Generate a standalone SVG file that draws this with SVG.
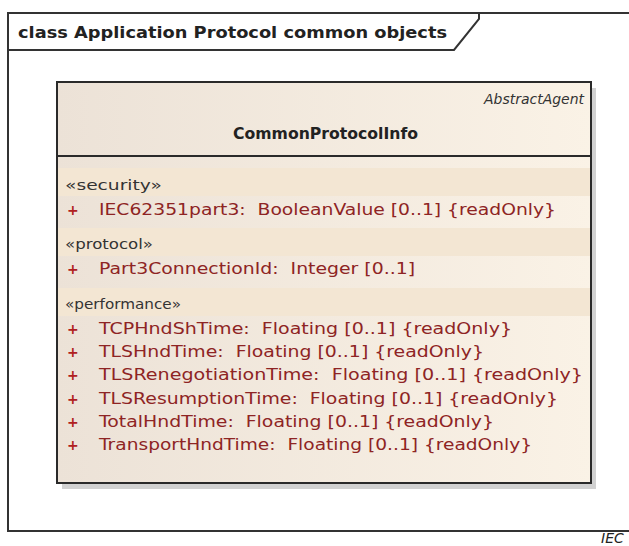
<svg xmlns="http://www.w3.org/2000/svg" width="629" height="546" viewBox="0 0 629 546">
  <style>
    text { font-family: "DejaVu Sans", Verdana, sans-serif; white-space: pre; }
    .frame { fill: none; stroke: #333; stroke-width: 2; }
    .title { font-size: 16px; font-weight: bold; fill: #222; }
    .box { stroke: #2a2a2a; stroke-width: 2; }
    .divider { stroke: #2a2a2a; stroke-width: 2; }
    .band { fill: #f3e6d3; }
    .stereo { font-size: 13.5px; fill: #333; }
    .attr { font-size: 15px; fill: #8e2424; }
    .plus { font-size: 14px; font-weight: bold; fill: #b02020; }
  </style>
  <defs>
    <linearGradient id="classFill" x1="0" y1="0" x2="1" y2="0">
      <stop offset="0" stop-color="#ece2d7"/>
      <stop offset="1" stop-color="#faf2e6"/>
    </linearGradient>
  </defs>

  <rect width="629" height="546" fill="#fff"/>

  <!-- diagram frame with name tab -->
  <g id="frame">
    <polyline class="frame" points="629,13 8,13 8,531 629,531"/>
    <polyline class="frame" points="8,50 454,50 479,19 479,13"/>
    <text class="title" x="18" y="38" textLength="429" lengthAdjust="spacingAndGlyphs">class Application Protocol common objects</text>
  </g>

  <!-- class CommonProtocolInfo -->
  <g id="CommonProtocolInfo">
    <rect x="62" y="88" width="534" height="401" fill="#bdbdbd" opacity="0.7"/>
    <rect class="box" x="57" y="82" width="534" height="401" fill="url(#classFill)"/>
    <text x="584" y="104" font-size="14.5" font-style="italic" fill="#333" text-anchor="end" textLength="100" lengthAdjust="spacingAndGlyphs">AbstractAgent</text>
    <text x="233" y="139" font-size="16" font-weight="bold" fill="#222" textLength="185" lengthAdjust="spacingAndGlyphs">CommonProtocolInfo</text>
    <line class="divider" x1="57" y1="156" x2="591" y2="156"/>

    <rect class="band" x="58" y="168" width="532" height="28"/>
    <text class="stereo" x="65" y="190" textLength="97" lengthAdjust="spacingAndGlyphs">«security»</text>
    <text class="plus" x="67" y="215">+</text>
    <text class="attr" x="99" y="215" textLength="457" lengthAdjust="spacingAndGlyphs">IEC62351part3:  BooleanValue [0..1] {readOnly}</text>

    <rect class="band" x="58" y="228" width="532" height="28"/>
    <text class="stereo" x="65" y="249" textLength="88" lengthAdjust="spacingAndGlyphs">«protocol»</text>
    <text class="plus" x="67" y="274">+</text>
    <text class="attr" x="99" y="274" textLength="316" lengthAdjust="spacingAndGlyphs">Part3ConnectionId:  Integer [0..1]</text>

    <rect class="band" x="58" y="288" width="532" height="28"/>
    <text class="stereo" x="65" y="309" textLength="116" lengthAdjust="spacingAndGlyphs">«performance»</text>
    <text class="plus" x="67" y="334">+</text>
    <text class="attr" x="99" y="334" textLength="413" lengthAdjust="spacingAndGlyphs">TCPHndShTime:  Floating [0..1] {readOnly}</text>
    <text class="plus" x="67" y="357">+</text>
    <text class="attr" x="99" y="357" textLength="385" lengthAdjust="spacingAndGlyphs">TLSHndTime:  Floating [0..1] {readOnly}</text>
    <text class="plus" x="67" y="380">+</text>
    <text class="attr" x="99" y="380" textLength="484" lengthAdjust="spacingAndGlyphs">TLSRenegotiationTime:  Floating [0..1] {readOnly}</text>
    <text class="plus" x="67" y="404">+</text>
    <text class="attr" x="99" y="404" textLength="459" lengthAdjust="spacingAndGlyphs">TLSResumptionTime:  Floating [0..1] {readOnly}</text>
    <text class="plus" x="67" y="427">+</text>
    <text class="attr" x="99" y="427" textLength="395" lengthAdjust="spacingAndGlyphs">TotalHndTime:  Floating [0..1] {readOnly}</text>
    <text class="plus" x="67" y="450">+</text>
    <text class="attr" x="99" y="450" textLength="433" lengthAdjust="spacingAndGlyphs">TransportHndTime:  Floating [0..1] {readOnly}</text>
  </g>

  <g id="connectors"/>

  <text x="601" y="543" font-size="14" font-style="italic" fill="#222">IEC</text>
</svg>
